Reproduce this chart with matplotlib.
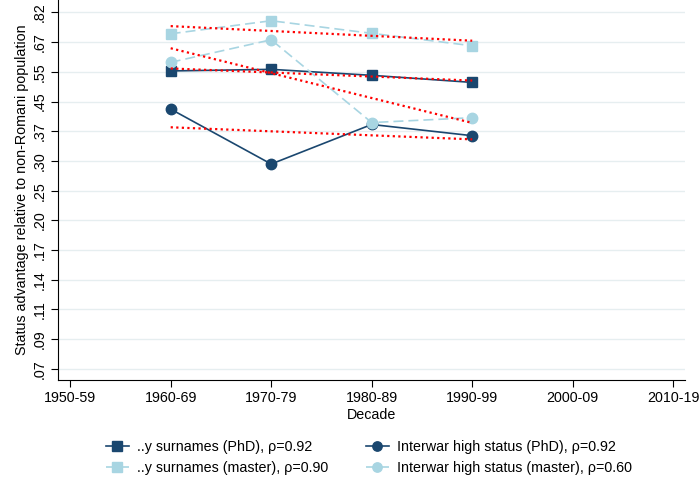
import numpy as np
import matplotlib
matplotlib.use("Agg")
import matplotlib.pyplot as plt

plt.rcParams['font.family'] = ['Liberation Sans', 'DejaVu Sans']

decades = ["1950-59", "1960-69", "1970-79", "1980-89", "1990-99", "2000-09", "2010-19"]
data_pos = [1, 2, 3, 4]  # 1960-69 .. 1990-99

sur_phd = [0.552, 0.558, 0.536, 0.511]
sur_master = [0.709, 0.774, 0.711, 0.654]
iw_phd = [0.427, 0.295, 0.385, 0.357]
iw_master = [0.585, 0.681, 0.390, 0.403]

ytick_labels = [".82", ".67", ".55", ".45", ".37", ".30", ".25", ".20", ".17", ".14", ".11", ".09", ".07"]
ytick_vals = np.exp(-0.2 * np.arange(1, 14))

navy = "#1a476f"
light = "#a8d5e2"
grid_c = "#e6eef0"
fs = 10.3

fig = plt.figure(figsize=(7, 4.79), dpi=100)
ax = fig.add_axes([0.083, 0.207, 0.896, 0.793])

series = [
    (sur_phd, "s", navy, "-", "..y surnames (PhD), ρ=0.92"),
    (sur_master, "s", light, (0, (6, 3)), "..y surnames (master), ρ=0.90"),
    (iw_phd, "o", navy, "-", "Interwar high status (PhD), ρ=0.92"),
    (iw_master, "o", light, (0, (6, 3)), "Interwar high status (master), ρ=0.60"),
]

handles = []
for vals, mk, col, ls, lab in series:
    h, = ax.plot(data_pos, vals, marker=mk, color=col, linestyle=ls, lw=1.2,
                 markersize=7.5, label=lab, zorder=3)
    handles.append(h)
    # log-linear fit
    b, a = np.polyfit(data_pos, np.log(vals), 1)
    xs = np.array([data_pos[0], data_pos[-1]])
    ax.plot(xs, np.exp(a + b * xs), color="red", linestyle=(0, (1, 1.5)),
            lw=1.6, zorder=4)

ax.set_yscale("log")
ax.set_ylim(0.069, 0.89)
ax.set_yticks(ytick_vals)
ax.set_yticklabels(ytick_labels, rotation=90, va="center")
ax.minorticks_off()
ax.yaxis.grid(True, color=grid_c, lw=1.0)
ax.set_axisbelow(True)

ax.set_xlim(-0.12, 6.12)
ax.set_xticks(range(len(decades)))
ax.set_xticklabels(decades)

ax.tick_params(labelsize=fs, length=5, color="black", width=0.8, pad=3)
ax.spines["top"].set_visible(False)
ax.spines["right"].set_visible(False)
ax.set_xlabel("Decade", fontsize=fs, labelpad=2)
ax.set_ylabel("Status advantage relative to non-Romani population", fontsize=fs, labelpad=3)

leg = fig.legend(handles=handles, ncol=2,
                 loc="center", bbox_to_anchor=(0.527, 0.045), frameon=False,
                 fontsize=fs, handlelength=1.6, handletextpad=0.6, columnspacing=2.6,
                 labelspacing=0.5, markerscale=0.9)

fig.savefig("out.png", dpi=100)
